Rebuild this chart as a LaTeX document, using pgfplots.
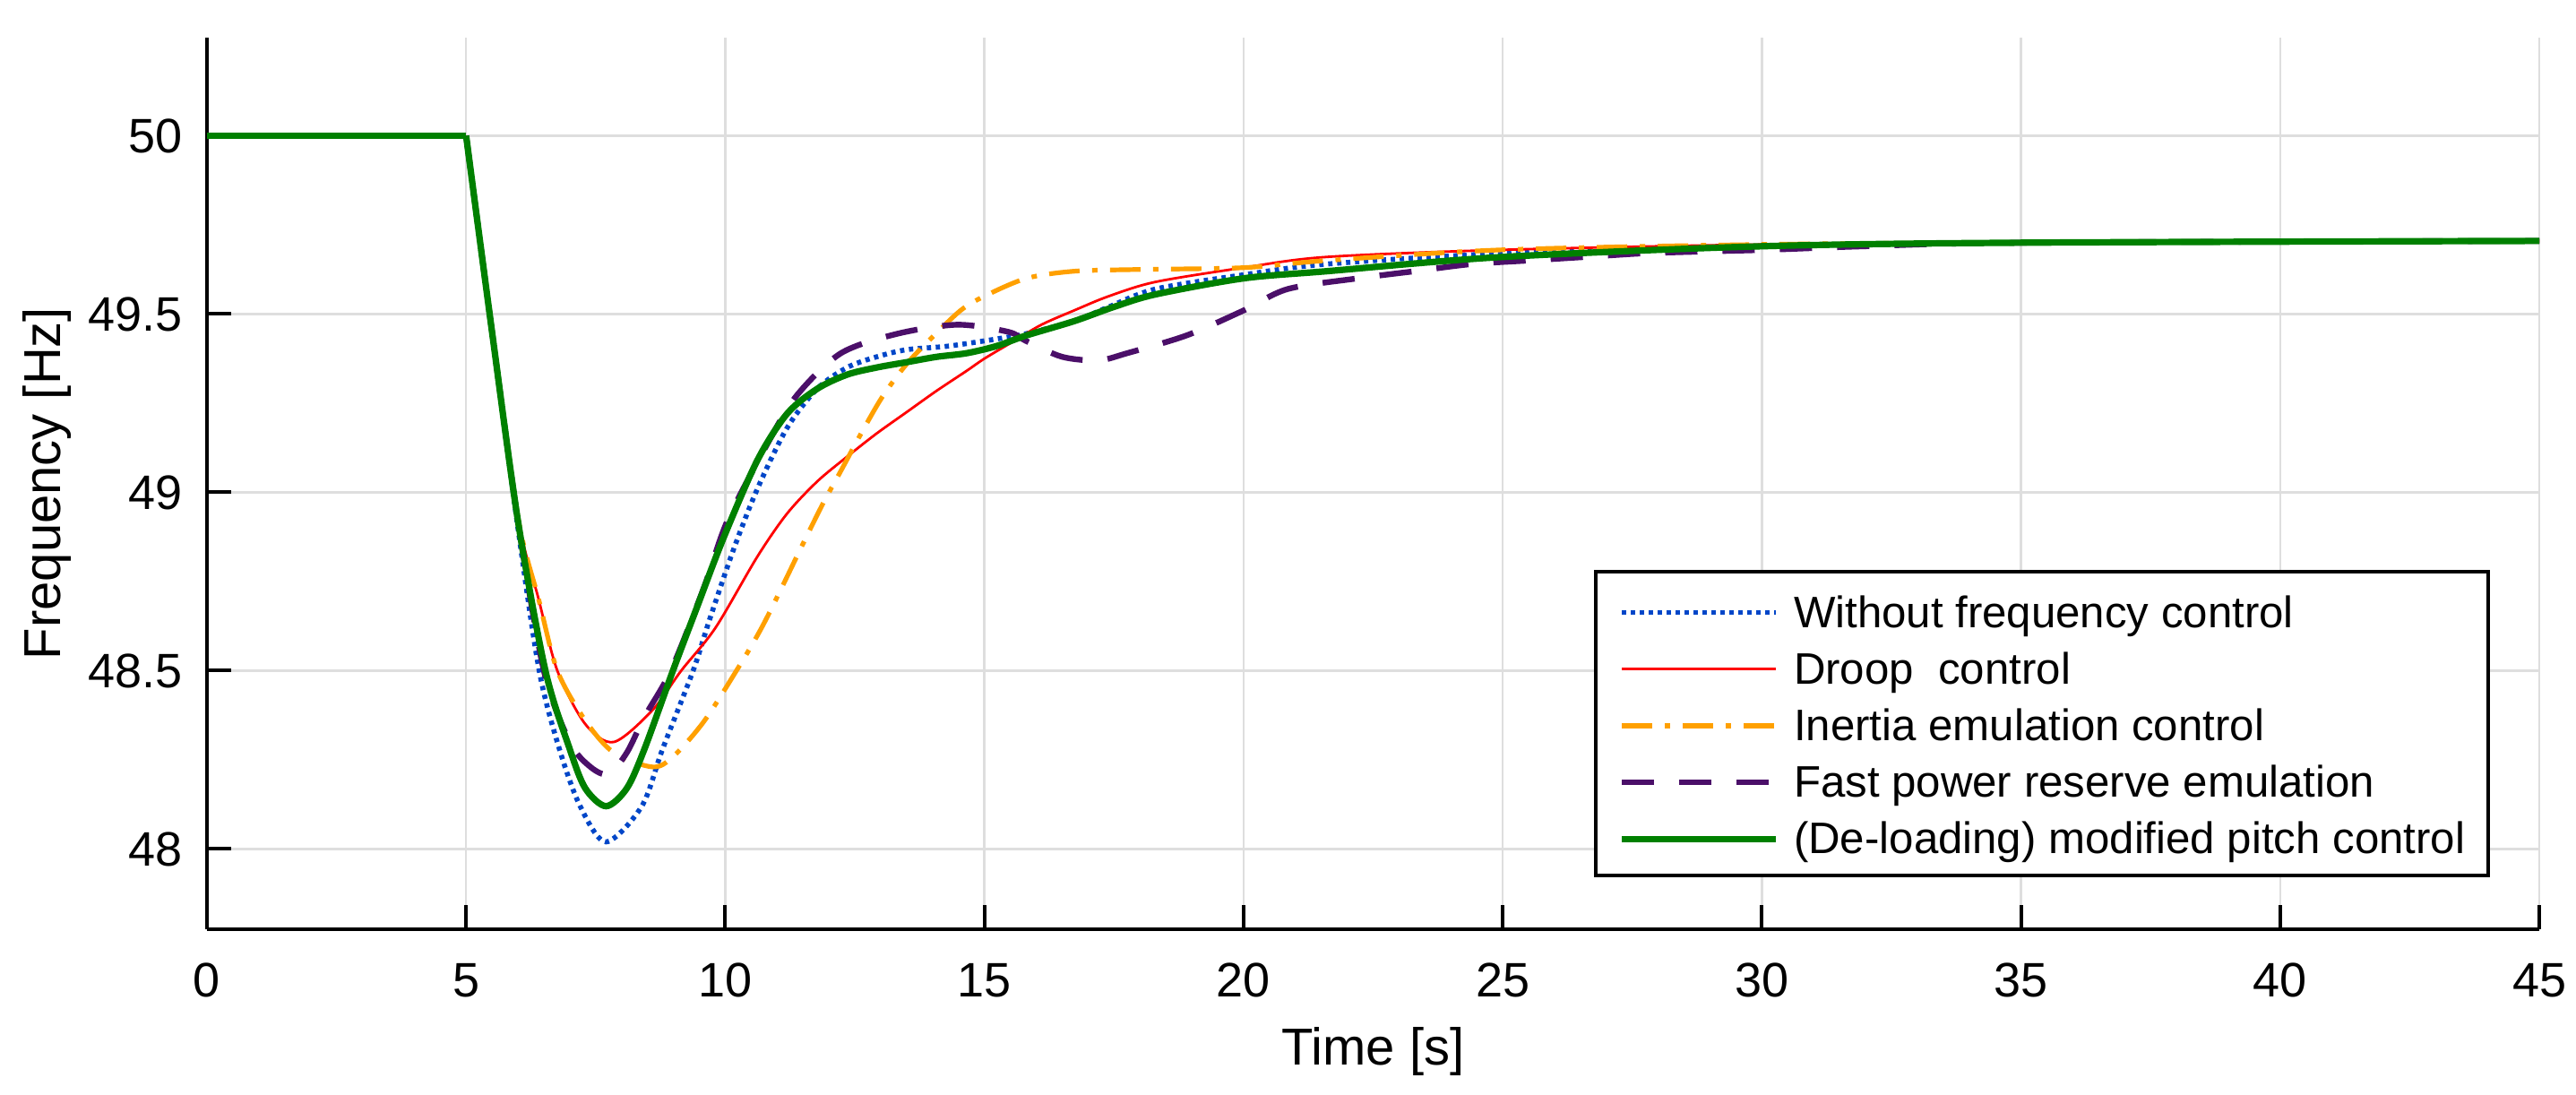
\documentclass[border=0pt]{standalone}
\usepackage{fontspec}
\setmainfont{Liberation Sans}
\usepackage{pgfplots}
\pgfplotsset{compat=1.18}

\definecolor{cblue}{RGB}{0,70,200}
\definecolor{cred}{RGB}{255,0,0}
\definecolor{corange}{RGB}{255,160,0}
\definecolor{cpurple}{RGB}{75,15,105}
\definecolor{cgreen}{RGB}{0,128,0}

\begin{document}
\begin{tikzpicture}
\useasboundingbox (-57.75pt,-46pt) rectangle (661pt,259.25pt);
\begin{axis}[
  scale only axis, width=650.75pt, height=248.75pt,
  xmin=0, xmax=45, ymin=47.775, ymax=50.275,
  xtick={0,5,...,45}, ytick={48,48.5,49,49.5,50},
  axis x line*=bottom, axis y line*=left,
  axis line style={line width=1pt, black},
  tick align=inside, major tick length=6.75pt,
  tick style={line width=1pt, black},
  grid=major, grid style={line width=0.6pt, color=black!13},
  /pgf/number format/assume math mode=true,
  tick label style={font=\fontsize{13.5}{16}\selectfont},
  xticklabel style={anchor=base, inner sep=0pt, yshift=-18.75pt},
  yticklabel style={anchor=east, inner sep=0pt, xshift=-6.75pt},
  xlabel={Time [s]}, ylabel={Frequency [Hz]},
  label style={font=\fontsize{14.5}{17}\selectfont},
  xlabel style={at={(axis description cs:0.5,0)}, anchor=base, inner sep=0pt, yshift=-37.75pt},
  ylabel style={at={([xshift=-40.75pt]axis description cs:0,0.5)}, anchor=base, inner sep=0pt},
  legend style={at={(0.979,0.058)}, anchor=south east, draw=black, line width=1pt,
    font=\fontsize{12.3}{14}\selectfont, inner xsep=6.5pt, inner ysep=5pt,
    row sep=4.2pt, column sep=0pt,
    nodes={inner sep=0pt, text height=10.5pt, text depth=1.1pt}},
  legend cell align=left,
  legend image code/.code={\draw[#1] (0pt,-0.6pt) -- (43pt,-0.6pt); \path (47pt,-0.6pt);},
  every axis plot/.append style={smooth, tension=0.5, line cap=butt},
]

% without frequency control
\addplot[cblue, line width=1.4pt, dash pattern=on 1.2pt off 1.3pt] coordinates {
(5,50) (5.5,49.45) (6.0,48.9) (6.41,48.5) (6.8,48.28) (7.2,48.12) (7.7,48.02)
(8.39,48.12) (8.79,48.28) (9.38,48.5) (9.69,48.64) (10.16,48.84) (10.62,49.01)
(11.19,49.18) (11.77,49.29) (12.35,49.35) (12.92,49.38) (13.5,49.40) (14.3,49.41)
(15.23,49.43) (15.81,49.445) (16.73,49.48) (17.4,49.52) (18.3,49.57) (20,49.61)
(21.6,49.64) (25,49.67) (30,49.69) (35,49.70) (45,49.705)
};
\addlegendentry{Without frequency control}

% droop control
\addplot[cred, line width=0.7pt] coordinates {
(5,50) (5.5,49.45) (6.0,48.93) (6.4,48.7) (6.76,48.5) (7.3,48.35) (7.85,48.30)
(8.6,48.39) (9.15,48.5) (9.81,48.62) (10.62,48.82) (11.19,48.94) (11.77,49.03)
(12.35,49.10) (12.92,49.165) (13.5,49.225) (14.08,49.285) (14.65,49.34) (15.0,49.375)
(15.52,49.42) (16.1,49.47) (16.73,49.51) (17.4,49.55) (18.3,49.59) (20,49.63)
(21.6,49.66) (25,49.68) (30,49.695) (35,49.70) (45,49.705)
};
\addlegendentry{Droop\ \ control}

% inertia emulation
\addplot[corange, line width=1.3pt, dash pattern=on 8.5pt off 3.5pt on 1.5pt off 3.5pt] coordinates {
(5,50) (5.5,49.45) (6.0,48.93) (6.4,48.7) (6.76,48.5) (7.3,48.36) (7.85,48.27)
(8.6,48.23) (9.0,48.26) (9.6,48.36) (10.3,48.52) (10.7,48.62) (11.08,48.73)
(11.48,48.85) (11.89,48.97) (12.23,49.06) (12.64,49.17) (13.04,49.27) (13.5,49.36)
(13.96,49.43) (14.54,49.51) (15.0,49.55) (15.81,49.60) (16.73,49.62) (18,49.625)
(20,49.63) (21.6,49.65) (25,49.68) (30,49.695) (35,49.70) (45,49.705)
};
\addlegendentry{Inertia emulation control}

% fast power reserve
\addplot[cpurple, line width=1.6pt, dash pattern=on 9pt off 7pt] coordinates {
(5,50) (5.5,49.45) (6.0,48.92) (6.5,48.5) (7.0,48.3) (7.4,48.23) (7.75,48.21)
(8.1,48.27) (8.44,48.37) (8.95,48.5) (9.58,48.73) (10.04,48.92) (10.79,49.13)
(11.37,49.27) (12.23,49.39) (13.33,49.445) (14.48,49.47) (15.46,49.45) (15.81,49.424)
(16.5,49.38) (17.2,49.37) (17.75,49.39) (18.9,49.44) (20,49.51) (20.85,49.57)
(22.2,49.60) (23.3,49.62) (24.4,49.64) (25.5,49.65) (26.6,49.66) (27.7,49.67)
(28.8,49.675) (30.1,49.68) (32,49.69) (35,49.70) (45,49.705)
};
\addlegendentry{Fast power reserve emulation}

% common pre-disturbance level
\addplot[cgreen, line width=1.8pt, sharp plot, forget plot] coordinates {(0,50) (5,50)};

% de-loading modified pitch control
\addplot[cgreen, line width=1.8pt] coordinates {
(5,50) (5.5,49.45) (6.0,48.92) (6.53,48.5) (7.0,48.28) (7.3,48.17) (7.7,48.12)
(8.1,48.17) (8.44,48.28) (8.99,48.5) (9.46,48.68) (9.96,48.87) (10.62,49.09)
(11.19,49.22) (11.77,49.29) (12.35,49.33) (12.92,49.35) (13.5,49.365) (14.08,49.38)
(14.65,49.39) (15.23,49.41) (15.81,49.44) (16.73,49.48) (17.5,49.52) (18.3,49.555)
(20,49.60) (21.6,49.62) (25,49.66) (30,49.69) (35,49.70) (45,49.705)
};
\addlegendentry{(De-loading) modified pitch control}

\end{axis}
\end{tikzpicture}
\end{document}
